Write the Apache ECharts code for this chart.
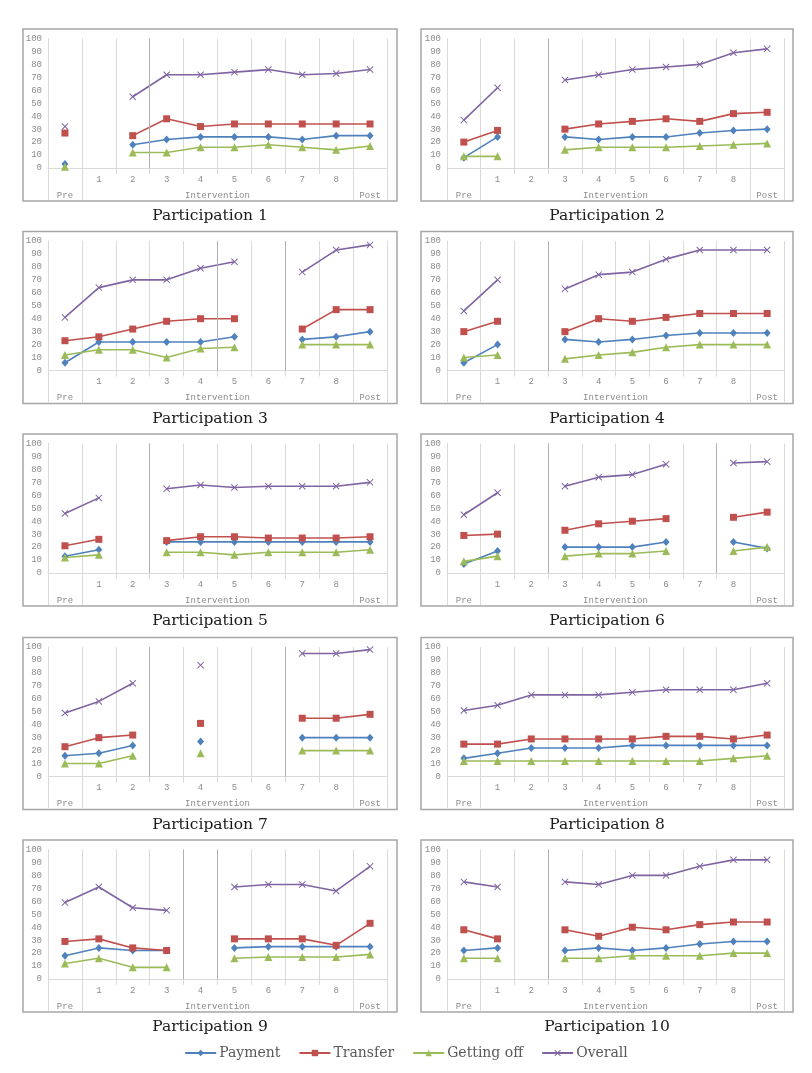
<!DOCTYPE html>
<html><head><meta charset="utf-8">
<script src="https://cdn.jsdelivr.net/npm/echarts@6/dist/echarts.min.js"></script>
<style>html,body{margin:0;padding:0;background:#fff}#c{width:812px;height:1073px}</style>
</head><body><div id="c"></div>
<script>
// Categories (x positions) and phase labels
const categories = ['Pre', '1', '2', '3', '4', '5', '6', '7', '8', 'Post'];
const phaseLabels = ['Pre', 'Intervention', 'Post'];
const seriesNames = ['Payment', 'Transfer', 'Getting off', 'Overall'];
const titles = ['Participation 1','Participation 2','Participation 3','Participation 4','Participation 5',
                'Participation 6','Participation 7','Participation 8','Participation 9','Participation 10'];
const _ = null;
// Values per participant: Pre, 1..8, Post
const payment = [
  [3, _, 18, 22, 24, 24, 24, 22, 25, 25],
  [8, 24, _, 24, 22, 24, 24, 27, 29, 30],
  [6, 22, 22, 22, 22, 26, _, 24, 26, 30],
  [6, 20, _, 24, 22, 24, 27, 29, 29, 29],
  [13, 18, _, 24, 24, 24, 24, 24, 24, 24],
  [7, 17, _, 20, 20, 20, 24, _, 24, 19],
  [16, 18, 24, _, 27, _, _, 30, 30, 30],
  [14, 18, 22, 22, 22, 24, 24, 24, 24, 24],
  [18, 24, 22, 22, _, 24, 25, 25, 25, 25],
  [22, 24, _, 22, 24, 22, 24, 27, 29, 29]
];
const transfer = [
  [27, _, 25, 38, 32, 34, 34, 34, 34, 34],
  [20, 29, _, 30, 34, 36, 38, 36, 42, 43],
  [23, 26, 32, 38, 40, 40, _, 32, 47, 47],
  [30, 38, _, 30, 40, 38, 41, 44, 44, 44],
  [21, 26, _, 25, 28, 28, 27, 27, 27, 28],
  [29, 30, _, 33, 38, 40, 42, _, 43, 47],
  [23, 30, 32, _, 41, _, _, 45, 45, 48],
  [25, 25, 29, 29, 29, 29, 31, 31, 29, 32],
  [29, 31, 24, 22, _, 31, 31, 31, 26, 43],
  [38, 31, _, 38, 33, 40, 38, 42, 44, 44]
];
const gettingOff = [
  [1, _, 12, 12, 16, 16, 18, 16, 14, 17],
  [9, 9, _, 14, 16, 16, 16, 17, 18, 19],
  [12, 16, 16, 10, 17, 18, _, 20, 20, 20],
  [10, 12, _, 9, 12, 14, 18, 20, 20, 20],
  [12, 14, _, 16, 16, 14, 16, 16, 16, 18],
  [9, 13, _, 13, 15, 15, 17, _, 17, 20],
  [10, 10, 16, _, 18, _, _, 20, 20, 20],
  [12, 12, 12, 12, 12, 12, 12, 12, 14, 16],
  [12, 16, 9, 9, _, 16, 17, 17, 17, 19],
  [16, 16, _, 16, 16, 18, 18, 18, 20, 20]
];
const overall = [
  [32, _, 55, 72, 72, 74, 76, 72, 73, 76],
  [37, 62, _, 68, 72, 76, 78, 80, 89, 92],
  [41, 64, 70, 70, 79, 84, _, 76, 93, 97],
  [46, 70, _, 63, 74, 76, 86, 93, 93, 93],
  [46, 58, _, 65, 68, 66, 67, 67, 67, 70],
  [45, 62, _, 67, 74, 76, 84, _, 85, 86],
  [49, 58, 72, _, 86, _, _, 95, 95, 98],
  [51, 55, 63, 63, 63, 65, 67, 67, 67, 72],
  [59, 71, 55, 53, _, 71, 73, 73, 68, 87],
  [75, 71, _, 75, 73, 80, 80, 87, 92, 92]
];
// darker phase-change lines (category boundaries)
const phaseLines = [[3], [3], [5, 7], [3], [3], [3, 8], [3, 7], [], [4, 5], [3]];

const colors = ['#4F81BD', '#C0504D', '#9BBB59', '#8064A2'];
const xPath = 'path://M0,1 L1,0 L5,4 L9,0 L10,1 L6,5 L10,9 L9,10 L5,6 L1,10 L0,9 L4,5 Z';
const symbols = ['diamond', 'rect', 'triangle', xPath];
const symbolSizes = [[7, 8], 7, 8, 7];
const allData = [payment, transfer, gettingOff, overall];

const axisFont = 'Liberation Mono, DejaVu Sans Mono, monospace';
const serifFont = 'DejaVu Serif, Liberation Serif, serif';
const lightLine = '#d9d9d9';
const labelColor = '#8c8c8c';

const colLeft = [48, 447];
const plotW = [339, 337];
const boxLeft = [23, 421];
const boxW = [374, 372];
const rowTop = [38.5, 241, 443.5, 647, 849.5];
const plotH = 129.5;

const grids = [], xAxes = [], yAxes = [], series = [], graphics = [];
for (let i = 0; i < 10; i++) {
  const col = i % 2, row = Math.floor(i / 2);
  grids.push({ left: colLeft[col], top: rowTop[row], width: plotW[col], height: plotH });
  xAxes.push({
    type: 'category', gridIndex: i, data: categories, boundaryGap: true,
    axisLine: { show: true, lineStyle: { color: lightLine, width: 1 } },
    axisTick: { show: true, interval: 0, length: 6, lineStyle: { color: lightLine } },
    axisLabel: { interval: 0, margin: 7, fontSize: 9, color: labelColor, fontFamily: axisFont,
      formatter: v => (v === 'Pre' || v === 'Post') ? '' : v },
    splitLine: { show: true, interval: 0, lineStyle: { color: lightLine, width: 1 } }
  });
  xAxes.push({
    type: 'value', gridIndex: i, min: 0, max: 10, position: 'bottom',
    axisLine: { show: false },
    axisTick: { show: true, customValues: [0, 1, 9, 10], length: 32, lineStyle: { color: lightLine } },
    axisLabel: { show: true, customValues: [0.5, 5, 9.5], margin: 23, fontSize: 9, color: labelColor, fontFamily: axisFont,
      formatter: v => v < 1 ? phaseLabels[0] : (v < 9 ? phaseLabels[1] : phaseLabels[2]) },
    splitLine: { show: false }
  });
  yAxes.push({
    type: 'value', gridIndex: i, min: 0, max: 100, interval: 10,
    axisLine: { show: true, lineStyle: { color: lightLine } },
    axisTick: { show: false }, splitLine: { show: false },
    axisLabel: { fontSize: 9, color: labelColor, fontFamily: axisFont, margin: 6 }
  });
  for (let s = 0; s < 4; s++) {
    series.push({
      type: 'line', name: seriesNames[s], xAxisIndex: 2 * i, yAxisIndex: i,
      data: allData[s][i], connectNulls: false, showSymbol: true,
      symbol: symbols[s], symbolSize: symbolSizes[s],
      lineStyle: { color: colors[s], width: 1.6 },
      itemStyle: { color: colors[s] },
      animation: false, z: 3
    });
  }
  series.push({
    type: 'line', xAxisIndex: 2 * i + 1, yAxisIndex: i, data: [],
    markLine: { silent: true, symbol: 'none', label: { show: false }, animation: false,
      lineStyle: { color: '#b0b0b0', width: 1, type: 'solid' },
      data: phaseLines[i].map(v => ({ xAxis: v })) },
    z: 1
  });
  const bTop = rowTop[row] - 9.5;
  graphics.push({ type: 'rect', shape: { x: boxLeft[col], y: bTop, width: boxW[col], height: 172 },
    style: { fill: 'none', stroke: '#a6a6a6', lineWidth: 1.5 }, silent: true });
  graphics.push({ type: 'text', x: boxLeft[col] + boxW[col] / 2, y: bTop + 172 + 15,
    style: { text: titles[i], font: '15.5px ' + serifFont, fill: '#1a1a1a', textAlign: 'center', textVerticalAlign: 'middle' } });
}

const chart = echarts.init(document.getElementById('c'));
chart.setOption({
  animation: false,
  backgroundColor: '#fff',
  grid: grids, xAxis: xAxes, yAxis: yAxes, series: series,
  graphic: graphics,
  legend: {
    data: seriesNames, bottom: 8, left: 'center', itemWidth: 31, itemHeight: 8, itemGap: 18,
    textStyle: { fontFamily: serifFont, fontSize: 14, color: '#595959', padding: [0, 0, 0, -2] }
  }
});
</script></body></html>
